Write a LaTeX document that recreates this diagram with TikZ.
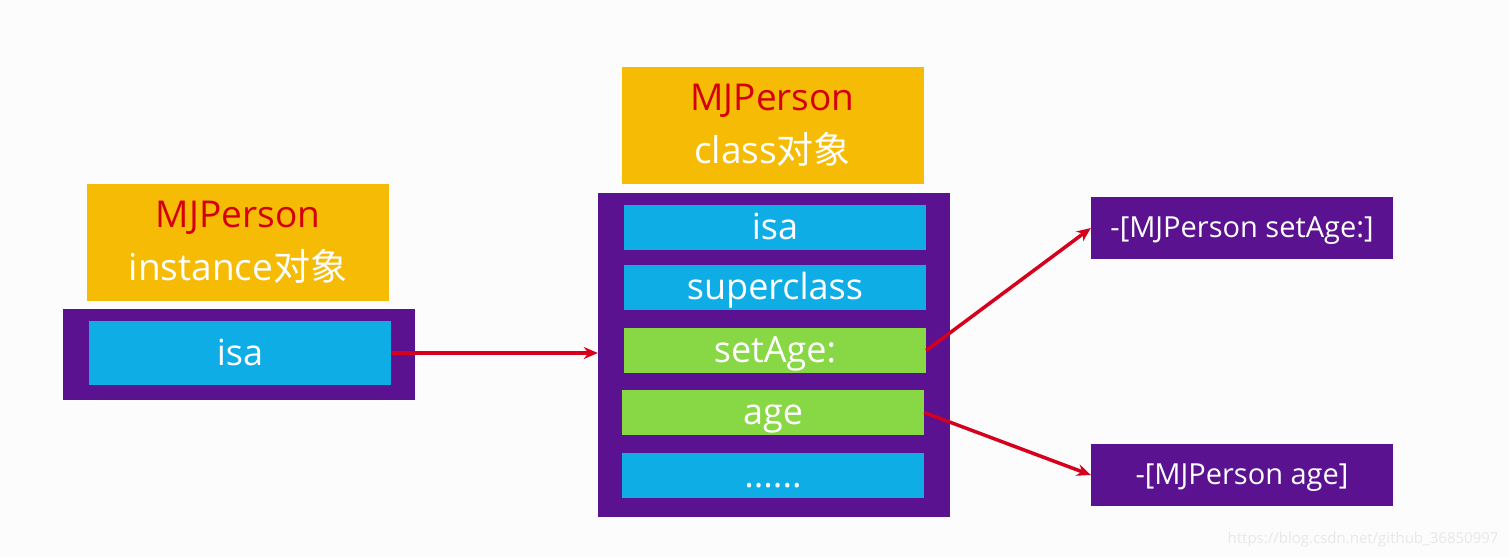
\documentclass[tikz,border=0pt]{standalone}
\usepackage{fontspec}
\setmainfont{Open Sans}
\newfontfamily\cjk{Noto Sans CJK SC}
\usetikzlibrary{arrows.meta, positioning, calc}
\definecolor{hdrOrange}  {HTML}{F5BB05}
\definecolor{objPurple}  {HTML}{5B1290}
\definecolor{slotBlue}   {HTML}{0FADE5}
\definecolor{slotGreen}  {HTML}{88D744}
\definecolor{nameRed}    {HTML}{D4000C}
\definecolor{arrowRed}   {HTML}{D6001C}
\definecolor{markGray}   {HTML}{E8E8E8}

\begin{document}
\begin{tikzpicture}[
    x=1pt, y=-1pt,
    hdr/.style={fill=hdrOrange, inner sep=0pt, minimum width=302pt,
                minimum height=117pt, align=center, text=white,
                font=\fontsize{37}{53}\selectfont},
    objbox/.style={fill=objPurple, inner sep=0pt},
    slot/.style={fill=slotBlue, inner sep=0pt, minimum width=302pt,
                 minimum height=45pt, text=white, text height=30pt, text depth=6pt,
                 font=\fontsize{36}{40}\selectfont},
    mslot/.style={slot, fill=slotGreen},
    meth/.style={fill=objPurple, inner sep=0pt, minimum width=302pt,
                 minimum height=62pt, text=white, text height=23pt, text depth=5pt,
                 font=\fontsize{29}{32}\selectfont},
    arr/.style={-{Stealth[length=14pt, width=12pt]}, draw=arrowRed, line width=3.5pt},
  ]
    \useasboundingbox (0,0) rectangle (1509,558);
    \fill[white!99!black] (0,0) rectangle (1509,558);

    % instance object
    \node[hdr] (insthdr) at (238,242.5) {\textcolor{nameRed}{MJPerson}\\instance{\cjk 对象}};
    \node[objbox, minimum width=352pt, minimum height=91pt] (inst) at (239,354.5) {};
    \node[slot, minimum width=302pt, minimum height=64pt] (instisa) at (240,353) {isa};

    % class object
    \node[hdr] (clshdr) at (772.5,125.5) {\textcolor{nameRed}{MJPerson}\\class{\cjk 对象}};
    \node[objbox, minimum width=352pt, minimum height=324pt] (cls) at (774,355) {};
    \node[slot] (clsisa) at (775,227.5) {isa};
    \node[slot] (super) at (775,287.5) {superclass};
    \node[mslot] (setage) at (775,350.5) {setAge:};
    \node[mslot] (age) at (773,412.5) {age};
    \node[slot] (more) at (773,475.5) {......};

    % method implementations
    \node[meth] (mset) at (1242,228) {-[MJPerson setAge:]};
    \node[meth] (mage) at (1242,475) {-[MJPerson age]};

    \draw[arr] (instisa.east) -- (cls.west |- instisa.east);
    \draw[arr] (setage.east) -- (mset.west);
    \draw[arr] (age.east) -- (mage.west);

    \node[text=markGray, font=\fontsize{15}{18}\selectfont, anchor=east] (mark)
      at (1502,540) {https://blog.csdn.net/github\_36850997};
\end{tikzpicture}
\end{document}
